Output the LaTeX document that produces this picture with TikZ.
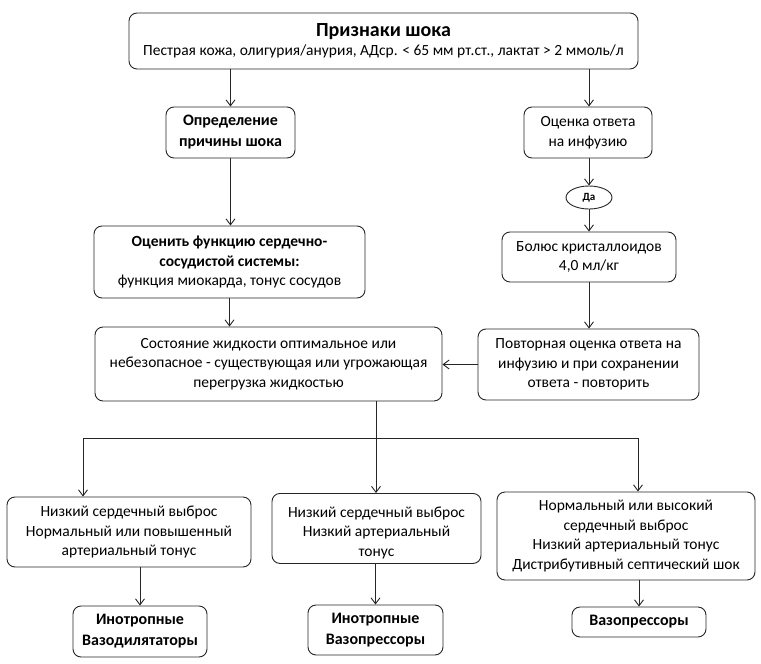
\documentclass[tikz,border=0pt]{standalone}
\usepackage{fontspec}
\setmainfont{Carlito}
\usetikzlibrary{arrows.meta,shapes.geometric}
\begin{document}
\begin{tikzpicture}[x=1pt,y=-1pt,
  box/.style={draw=black!85, line width=0.9pt, rounded corners=8pt, align=center,
    inner sep=0pt, font=\fontsize{15.5}{19.5}\selectfont},
  bbox/.style={box, font=\bfseries\fontsize{16}{21}\selectfont},
  arr/.style={-{Straight Barb[length=6pt,width=9pt,line width=0.9pt]}, line width=0.9pt, draw=black!85},
  ln/.style={line width=0.9pt, draw=black!85}]
\useasboundingbox (0,0) rectangle (761,664);
% top
\node[box, minimum width=509pt, minimum height=56pt] (top) at (383.5,41)
  {{\bfseries\fontsize{20}{22}\selectfont Признаки шока}\\[0pt]
   Пестрая кожа, олигурия/анурия, АДср. < 65 мм рт.ст., лактат > 2 ммоль/л};
\node[bbox, minimum width=129pt, minimum height=51pt] (def) at (230.5,132.5)
  {Определение\\причины шока};
\node[box, minimum width=128pt, minimum height=51pt] (otv) at (588,132.5)
  {Оценка ответа\\на инфузию};
\node[ellipse, draw=black!85, line width=0.9pt, minimum width=46pt, minimum height=23pt,
  inner sep=0pt, font=\bfseries\fontsize{11}{12}\selectfont] (da) at (589,197.5) {Да};
\node[box, minimum width=174pt, minimum height=50pt] (bolus) at (589,257)
  {Болюс кристаллоидов\\4,0 мл/кг};
\node[box, minimum width=271pt, minimum height=72pt] (ocen) at (229.5,262)
  {{\bfseries Оценить функцию сердечно-}\\{\bfseries сосудистой системы:}\\функция миокарда, тонус сосудов};
\node[box, minimum width=347pt, minimum height=74pt] (sost) at (268.5,364)
  {Состояние жидкости оптимальное или\\небезопасное - существующая или угрожающая\\перегрузка жидкостью};
\node[box, minimum width=221pt, minimum height=71pt] (povt) at (588.5,364.5)
  {Повторная оценка ответа на\\инфузию и при сохранении\\ответа - повторить};
% row 3
\node[box, minimum width=244pt, minimum height=70pt] (l1) at (129,532)
  {Низкий сердечный выброс\\Нормальный или повышенный\\артериальный тонус};
\node[box, minimum width=209pt, minimum height=70pt, anchor=north] (m1) at (376.5,493)
  {\rule{0pt}{19pt}Низкий сердечный выброс\\Низкий артериальный\\тонус};
\node[box, minimum width=258pt, minimum height=88pt] (r1) at (626,536)
  {Нормальный или высокий\\сердечный выброс\\Низкий артериальный тонус\\Дистрибутивный септический шок};
\node[bbox, minimum width=134pt, minimum height=51pt] (l2) at (140,631.5)
  {Инотропные\\Вазодилятаторы};
\node[bbox, minimum width=135pt, minimum height=50pt] (m2) at (375.5,630)
  {Инотропные\\Вазопрессоры};
\node[bbox, minimum width=134pt, minimum height=30pt] (r2) at (639,622)
  {Вазопрессоры};
% connectors
\draw[arr] (top.south -| def.north) -- (def.north);
\draw[arr] (top.south -| da.north) -- (da.north |- otv.north);
\draw[arr] (def.south) -- (def.south |- ocen.north);
\draw[arr] (otv.south -| da.north) -- (da.north);
\draw[arr] (da.south) -- (da.south |- bolus.north);
\draw[arr] (bolus.south -| da.north) -- (da.north |- povt.north);
\draw[arr] (ocen.south) -- (ocen.south |- sost.north);
\draw[arr] (povt.west) -- (sost.east |- povt.west);
\coordinate (br) at (376,438);
\coordinate (bl) at (83,438);
\coordinate (bR) at (638,438);
\draw[ln] (br |- sost.south) -- (br);
\draw[ln] (bl) -- (bR);
\draw[arr] (bl) -- (bl |- l1.north);
\draw[arr] (br) -- (br |- m1.north);
\draw[arr] (bR) -- (bR |- r1.north);
\draw[arr] (l2.north |- l1.south) -- (l2.north);
\draw[arr] (m2.north |- m1.south) -- (m2.north);
\draw[arr] (r2.north |- r1.south) -- (r2.north);
\end{tikzpicture}
\end{document}
